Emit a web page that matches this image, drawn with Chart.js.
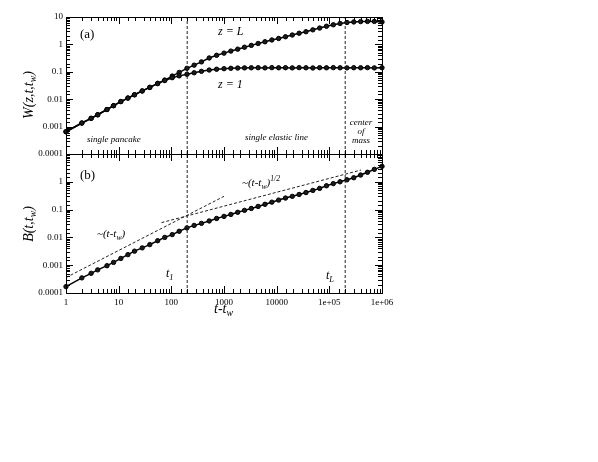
<!DOCTYPE html>
<html>
<head>
<meta charset="utf-8">
<script src="https://cdn.jsdelivr.net/npm/chart.js@4.4.0/dist/chart.umd.min.js"></script>
<style>
  body { margin: 0; background: #fff; }
  #wrap { position: relative; width: 598px; height: 462px; font-family: "Liberation Serif", "DejaVu Serif", serif; color: #000; }
  canvas { position: absolute; left: 0; }
  .lbl { position: absolute; white-space: nowrap; font-style: italic; line-height: 1; }
  .up { font-style: normal; }
  .ytitle { position: absolute; white-space: nowrap; font-style: italic; font-size: 14px; line-height: 1;
            transform: translate(-50%, -50%) rotate(-90deg); }
  sub { font-size: 70%; vertical-align: -0.35em; line-height: 0; }
  sup { font-size: 70%; vertical-align: 0.6em; line-height: 0; }
  .cm { text-align: center; font-size: 9px; line-height: 9px; }
</style>
</head>
<body>
<div id="wrap">
  <canvas id="top" width="598" height="170" style="top:0"></canvas>
  <canvas id="bottom" width="598" height="190" style="top:140px"></canvas>

  <div class="lbl up" style="left:80px; top:27px; font-size:13px;">(a)</div>
  <div class="lbl" style="left:218px; top:25px; font-size:12px;">z = L</div>
  <div class="lbl" style="left:218px; top:78px; font-size:12px;">z = 1</div>
  <div class="lbl" style="left:87px; top:135px; font-size:9px;">single pancake</div>
  <div class="lbl" style="left:245px; top:133px; font-size:9px;">single elastic line</div>
  <div class="lbl cm" style="left:348px; top:118px; width:26px;">center<br>of<br>mass</div>
  <div class="ytitle" style="left:29px; top:95px;">W(z,t,t<sub>w</sub>)</div>

  <div class="lbl up" style="left:80px; top:168px; font-size:13px;">(b)</div>
  <div class="lbl" style="left:242px; top:177px; font-size:11px;">~(t-t<sub>w</sub>)<sup>1/2</sup></div>
  <div class="lbl" style="left:97px; top:228px; font-size:11px;">~(t-t<sub>w</sub>)</div>
  <div class="lbl" style="left:166px; top:267px; font-size:12px;">t<sub>1</sub></div>
  <div class="lbl" style="left:326px; top:269px; font-size:12px;">t<sub>L</sub></div>
  <div class="ytitle" style="left:29px; top:224px;">B(t,t<sub>w</sub>)</div>
  <div class="lbl" style="left:214px; top:302px; font-size:14px;">t-t<sub>w</sub></div>
</div>

<script>
// waiting times t - t_w (shared by all three measured curves)
const times = [1, 2, 3, 4, 6, 8, 11, 15, 20, 28,
  39, 55, 75, 104, 141, 198, 271, 373, 524, 724,
  1000, 1350, 1820, 2450, 3300, 4450, 6000, 8100, 10900, 14700,
  19800, 26700, 36000, 48600, 65500, 88300, 119000, 160000, 216000, 291000,
  393000, 530000, 715000, 1000000];

// W(z,t,tw) for z = L
const wL = [6.5e-4, 1.35e-3, 2.0e-3, 2.7e-3, 4.2e-3, 5.8e-3, 0.0082, 0.011, 0.0145, 0.020,
  0.027, 0.038, 0.050, 0.070, 0.095, 0.134, 0.175, 0.23, 0.32, 0.40,
  0.48, 0.57, 0.67, 0.79, 0.92, 1.08, 1.25, 1.45, 1.65, 1.9,
  2.2, 2.55, 2.9, 3.4, 3.95, 4.6, 5.2, 5.8, 6.3, 6.6,
  6.8, 6.9, 6.9, 6.6];

// W(z,t,tw) for z = 1
const w1 = [6.5e-4, 1.35e-3, 2.0e-3, 2.7e-3, 4.2e-3, 5.8e-3, 0.0082, 0.011, 0.0145, 0.020,
  0.027, 0.037, 0.048, 0.061, 0.071, 0.081, 0.092, 0.104, 0.116, 0.124,
  0.130, 0.134, 0.137, 0.139, 0.140, 0.141, 0.139, 0.142, 0.140, 0.141,
  0.139, 0.142, 0.140, 0.138, 0.141, 0.140, 0.142, 0.140, 0.139, 0.141,
  0.140, 0.142, 0.139, 0.141];

// B(t,tw)
const bVals = [1.7e-4, 3.5e-4, 5.1e-4, 6.8e-4, 9.6e-4, 1.26e-3, 1.75e-3, 2.4e-3, 3.2e-3, 4.2e-3,
  5.5e-3, 7.6e-3, 0.0100, 0.0126, 0.0166, 0.022, 0.027, 0.032, 0.039, 0.048,
  0.057, 0.067, 0.080, 0.094, 0.11, 0.13, 0.155, 0.185, 0.22, 0.26,
  0.30, 0.35, 0.41, 0.49, 0.58, 0.72, 0.86, 1.0, 1.18, 1.4,
  1.75, 2.2, 2.8, 3.6];

// guide lines ~(t-tw) and ~(t-tw)^1/2, end points
const linGuideT = [1, 1000];
const linGuideB = [3.6e-4, 0.3];
const sqrtGuideT = [65, 400000];
const sqrtGuideB = [0.034, 2.65];

// crossover times t_1 and t_L
const crossT = [200, 200000];

const xTickVals = [1, 10, 100, 1000, 10000, 100000, 1000000];
const xTickLabels = ['1', '10', '100', '1000', '10000', '1e+05', '1e+06'];
const wTickVals = [0.0001, 0.001, 0.01, 0.1, 1, 10];
const wTickLabels = ['0.0001', '0.001', '0.01', '0.1', '1', '10'];
const bTickVals = [0.0001, 0.001, 0.01, 0.1, 1];
const bTickLabels = ['0.0001', '0.001', '0.01', '0.1', '1'];

function labelFor(v, vals, labels) {
  const i = vals.findIndex(t => Math.abs(Math.log10(t) - Math.log10(v)) < 1e-6);
  return i < 0 ? '' : labels[i];
}
function pts(xs, ys) { return xs.map((x, i) => ({x: x, y: ys[i]})); }

function series(ys) {
  return {
    data: pts(times, ys), borderColor: '#000', borderWidth: 1.5,
    pointRadius: 2.2, pointBackgroundColor: '#1a1a1a', pointBorderColor: '#000', pointBorderWidth: 1,
    tension: 0, clip: false
  };
}
function dashed(xs, ys) {
  return { data: pts(xs, ys), borderColor: '#222', borderWidth: 1, borderDash: [3, 2], pointRadius: 0, tension: 0 };
}
function vline(t, lo, hi) { return dashed([t, t], [lo, hi]); }

// frame and inward tick marks on all four sides
const frameTicks = {
  id: 'frameTicks',
  afterDraw(chart) {
    const {ctx, chartArea: a, scales} = chart;
    const major = v => Math.abs(Math.log10(v) - Math.round(Math.log10(v))) < 1e-6;
    ctx.save();
    ctx.strokeStyle = '#000';
    ctx.lineWidth = 1;
    ctx.beginPath();
    scales.x.ticks.forEach(t => {
      const px = Math.round(scales.x.getPixelForValue(t.value)) + 0.5;
      const len = major(t.value) ? 7 : 4;
      ctx.moveTo(px, a.bottom); ctx.lineTo(px, a.bottom - len);
      ctx.moveTo(px, a.top); ctx.lineTo(px, a.top + len);
    });
    scales.y.ticks.forEach(t => {
      const py = Math.round(scales.y.getPixelForValue(t.value)) + 0.5;
      const len = major(t.value) ? 7 : 4;
      ctx.moveTo(a.left, py); ctx.lineTo(a.left + len, py);
      ctx.moveTo(a.right, py); ctx.lineTo(a.right - len, py);
    });
    ctx.stroke();
    ctx.strokeRect(Math.round(a.left) + 0.5, Math.round(a.top) + 0.5,
      Math.round(a.right - a.left), Math.round(a.bottom - a.top));
    ctx.restore();
  }
};

const tickFont = {family: 'Liberation Serif', size: 9};

function baseOptions(padTop, xHeight, showX, yVals, yLabels) {
  return {
    responsive: false, animation: false, devicePixelRatio: 1,
    layout: {padding: {left: 0, right: 216, top: padTop, bottom: 0}},
    plugins: {legend: {display: false}, tooltip: {enabled: false}},
    scales: {
      x: {
        type: 'logarithmic', min: 1, max: 1e6,
        grid: {display: false, drawTicks: false, tickLength: 0}, border: {display: false},
        ticks: {display: showX, autoSkip: false, maxRotation: 0, minRotation: 0, padding: 4,
          font: tickFont, color: '#000', callback: v => labelFor(v, xTickVals, xTickLabels)},
        afterFit: s => { s.height = xHeight; }
      },
      y: {
        type: 'logarithmic', min: 1e-4, max: 10,
        grid: {display: false, drawTicks: false, tickLength: 0}, border: {display: false},
        ticks: {autoSkip: false, padding: 3, font: tickFont, color: '#000',
          callback: v => labelFor(v, yVals, yLabels)},
        afterFit: s => { s.width = 66; }
      }
    }
  };
}

new Chart(document.getElementById('top'), {
  type: 'line',
  data: {datasets: [
    vline(crossT[0], 1e-4, 10), vline(crossT[1], 1e-4, 10),
    series(w1), series(wL)
  ]},
  options: baseOptions(17, 16, false, wTickVals, wTickLabels),
  plugins: [frameTicks]
});

new Chart(document.getElementById('bottom'), {
  type: 'line',
  data: {datasets: [
    vline(crossT[0], 1e-4, 10), vline(crossT[1], 1e-4, 10),
    dashed(linGuideT, linGuideB), dashed(sqrtGuideT, sqrtGuideB),
    series(bVals)
  ]},
  options: baseOptions(14, 37, true, bTickVals, bTickLabels),
  plugins: [frameTicks]
});
</script>
</body>
</html>
